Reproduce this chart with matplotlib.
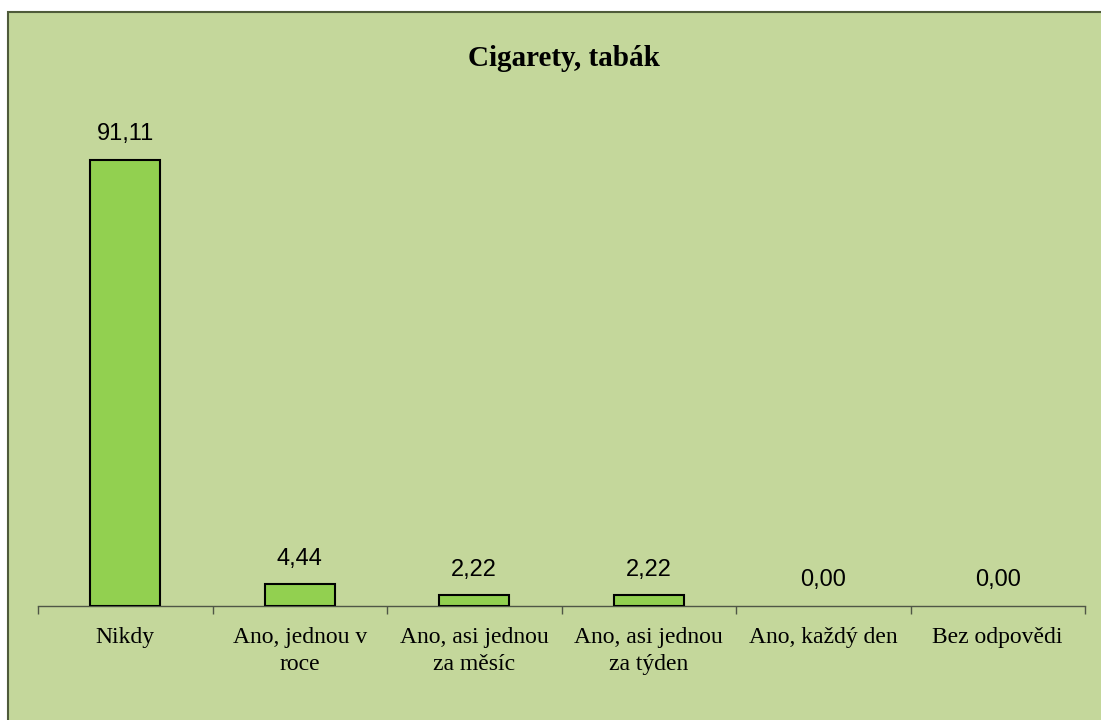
import matplotlib
matplotlib.use('Agg')
import matplotlib.pyplot as plt
from matplotlib.patches import Rectangle
from matplotlib.ticker import FixedLocator

# data
categories = ['Nikdy', 'Ano, jednou v\nroce', 'Ano, asi jednou\nza měsíc',
              'Ano, asi jednou\nza týden', 'Ano, každý den', 'Bez odpovědi']
values = [91.11, 4.44, 2.22, 2.22, 0.00, 0.00]
title = 'Cigarety, tabák'

bg = '#C4D79B'
W, H = 1101, 720

fig = plt.figure(figsize=(W / 100, H / 100), dpi=100, facecolor='white')

# chart area frame (open at right/bottom like the reference crop)
fig.patches.append(Rectangle((8 / W, -0.02), 1.1, 1 - 12 / H + 0.02,
                             transform=fig.transFigure, facecolor=bg,
                             edgecolor='#4F5B3A', lw=1.5, zorder=-5))

ax = fig.add_axes([38 / W, (H - 606) / H, 1047 / W, 489.5 / H])
ax.set_facecolor('none')
ax.set_zorder(2)

x = range(len(categories))
edges = ['black' if v > 0 else 'none' for v in values]
bars = ax.bar(x, values, width=0.4, color='#92D050', edgecolor=edges, lw=1.5, zorder=3)
for b, v in zip(bars, values):
    ax.annotate(f'{v:.2f}'.replace('.', ','), (b.get_x() + b.get_width() / 2, v),
                xytext=(0, 10.5), textcoords='offset points', ha='center', va='bottom',
                fontsize=17, family='Liberation Sans', color='black')

ax.set_xlim(-0.5, len(categories) - 0.5)
ax.set_ylim(0, 100)
ax.set_xticks(list(x))
ax.set_xticklabels(categories, family='Liberation Serif', fontsize=17, linespacing=1.4)
ax.xaxis.set_minor_locator(FixedLocator([i - 0.5 for i in range(len(categories) + 1)]))
ax.tick_params(axis='x', which='major', length=0, pad=15)
ax.tick_params(axis='x', which='minor', length=5.5, width=1, color='#4F5646', direction='out')
ax.set_yticks([])
for s in ['top', 'right', 'left']:
    ax.spines[s].set_visible(False)
ax.spines['bottom'].set_color('#4F5646')
ax.spines['bottom'].set_linewidth(1)

fig.text(564 / W, 1 - 66 / H, title, ha='center', va='baseline',
         family='Liberation Serif', fontsize=21, fontweight='bold', zorder=3)

fig.savefig('out.png', dpi=100, facecolor='white')
